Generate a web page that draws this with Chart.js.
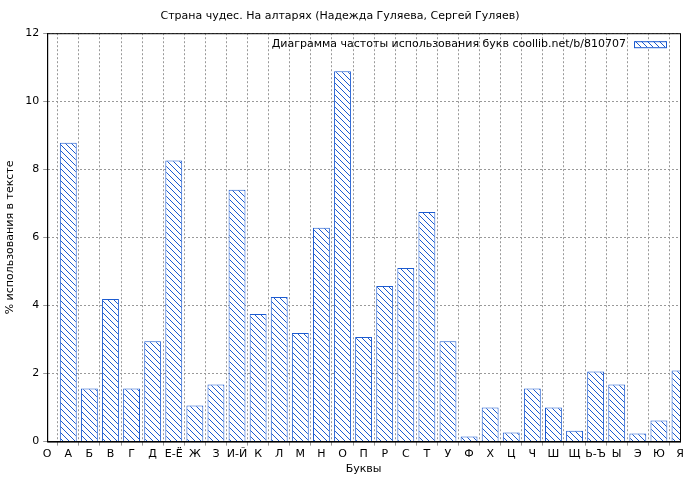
<!DOCTYPE html>
<html>
<head>
<meta charset="utf-8">
<script src="https://cdn.jsdelivr.net/npm/chart.js@4"></script>
<style>
  html, body { margin: 0; padding: 0; background: #fff; }
  #wrap { width: 700px; height: 480px; }
</style>
</head>
<body>
<div id="wrap"><canvas id="c"></canvas></div>
<script>
// Буквы: первая метка "О" стоит на нулевой позиции оси, без столбца.
const letters = ['О', 'А', 'Б', 'В', 'Г', 'Д', 'Е-Ё', 'Ж', 'З', 'И-Й', 'К', 'Л', 'М', 'Н', 'О', 'П',
  'Р', 'С', 'Т', 'У', 'Ф', 'Х', 'Ц', 'Ч', 'Ш', 'Щ', 'Ь-Ъ', 'Ы', 'Э', 'Ю', 'Я'];
const percents = [0, 8.78, 1.56, 4.19, 1.56, 2.95, 8.26, 1.06, 1.68, 7.40, 3.75, 4.25, 3.19, 6.28,
  10.88, 3.07, 4.57, 5.10, 6.75, 2.95, 0.15, 1.0, 0.27, 1.56, 1.0, 0.32, 2.06, 1.68, 0.24, 0.62, 2.09];
const yTicks = [0, 2, 4, 6, 8, 10, 12];

const BLUE = '#1c5bd0';

function hatch() {
  const p = document.createElement('canvas');
  p.width = 6; p.height = 6;
  const g = p.getContext('2d');
  g.fillStyle = '#fff';
  g.fillRect(0, 0, 6, 6);
  g.strokeStyle = BLUE;
  g.lineWidth = 1;
  g.beginPath();
  g.moveTo(0, 0); g.lineTo(6, 6);
  g.moveTo(-3, 3); g.lineTo(3, 9);
  g.moveTo(3, -3); g.lineTo(9, 3);
  g.stroke();
  return g.createPattern(p, 'repeat');
}

const legendText = 'Диаграмма частоты использования букв coollib.net/b/810707';

const legendPlugin = {
  id: 'rightLegend',
  afterDraw(chart) {
    const ctx = chart.ctx;
    const a = chart.chartArea;
    ctx.save();
    ctx.font = '11px "DejaVu Sans"';
    ctx.fillStyle = '#000';
    ctx.textAlign = 'right';
    ctx.textBaseline = 'middle';
    const y = a.top + 11;
    const bx = a.right - 46;
    ctx.fillText(legendText, bx - 8, y);
    ctx.fillStyle = hatch();
    ctx.fillRect(bx, y - 3, 32, 6);
    ctx.strokeStyle = BLUE;
    ctx.strokeRect(bx + 0.5, y - 3 + 0.5, 32, 6);
    // рамка области графика
    ctx.strokeStyle = '#000';
    ctx.lineWidth = 1;
    ctx.strokeRect(a.left + 0.5, a.top + 0.5, a.right - a.left, a.bottom - a.top);
    ctx.restore();
  }
};

Chart.defaults.font.family = '"DejaVu Sans"';
Chart.defaults.font.size = 11;
Chart.defaults.color = '#000';

new Chart(document.getElementById('c'), {
  type: 'bar',
  data: {
    labels: letters,
    datasets: [{
      label: legendText,
      data: percents,
      backgroundColor: hatch(),
      borderColor: BLUE,
      borderWidth: 1,
      barPercentage: 0.8,
      categoryPercentage: 1.0,
    }],
  },
  options: {
    responsive: true,
    maintainAspectRatio: false,
    animation: false,
    layout: { padding: { left: 0, right: 20, top: 0, bottom: 0 } },
    plugins: {
      legend: { display: false },
      tooltip: { enabled: false },
      title: {
        display: true,
        text: 'Страна чудес. На алтарях (Надежда Гуляева, Сергей Гуляев)',
        font: { size: 11, weight: 'normal' },
        padding: { top: 10, bottom: 10 },
      },
    },
    scales: {
      x: {
        offset: false,
        grid: { color: '#999', borderDash: [2, 2], drawTicks: true, tickLength: 4 },
        border: { dash: [2, 2], color: '#000' },
        ticks: { maxRotation: 0, autoSkip: false, padding: 2 },
        title: { display: true, text: 'Буквы', padding: { top: 0 } },
      },
      y: {
        min: 0, max: 12,
        afterBuildTicks: (s) => { s.ticks = yTicks.map((v) => ({ value: v })); },
        grid: { color: '#999', tickLength: 4 },
        border: { dash: [2, 2], color: '#000' },
        ticks: { padding: 4 },
        title: { display: true, text: '% использования в тексте' },
      },
    },
  },
  plugins: [legendPlugin],
});
</script>
</body>
</html>
